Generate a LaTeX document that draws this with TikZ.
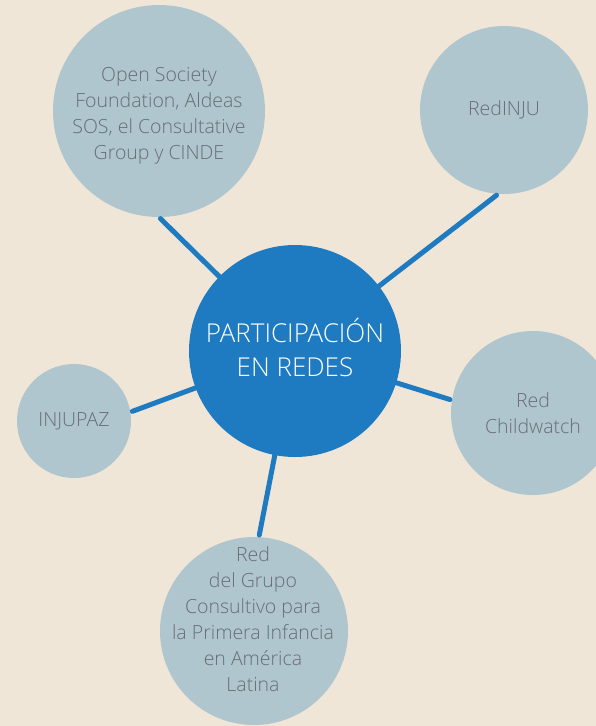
\documentclass[tikz,border=0pt]{standalone}
\usepackage{fontspec}
\setmainfont{Open Sans Light}
\usetikzlibrary{positioning}
\definecolor{fondo}{HTML}{F0E6D7}
\definecolor{satelite}{HTML}{AFC6CF}
\definecolor{centro}{HTML}{1E7BC1}
\definecolor{gristexto}{HTML}{686E73}

\begin{document}
\begin{tikzpicture}[
		x=1pt, y=-1pt,
		red/.style={ % circulos de las redes
				circle, fill=satelite, inner sep=0pt, align=center,
				text=gristexto, font=\fontsize{19.5}{26}\selectfont
			},
		hubred/.style={ % circulo central
				circle, fill=centro, inner sep=0pt, align=center,
				text=white, font=\fontsize{26}{34}\selectfont
			},
		enlace/.style={
				draw=centro, line width=5pt, line cap=round, shorten <=2pt
			}
	]
	% fondo y marco
	\fill[fondo] (0,0) rectangle (596,726);
	\clip (0,0) rectangle (596,726);
	% redes alrededor
	\node[red, minimum size=212pt] (osf) at (159,111) {};
	\node[gristexto, align=center, font=\fontsize{19.5}{26}\selectfont] (osftxt) at (159,116)
	{Open Society\\Foundation, Aldeas\\SOS, el Consultative\\Group y CINDE};
	\node[red, minimum size=168pt] (inju) at (504,110) {RedINJU};
	\node[red, minimum size=164pt] (childwatch) at (533,413) {Red\\Childwatch};
	\node[red, minimum size=114pt] (injupaz) at (74,421) {INJUPAZ};
	\node[red, minimum size=188pt] (grupo) at (254,631) {};
	\node[gristexto, align=center, font=\fontsize{19.5}{26}\selectfont] (grupotxt) at (253,619)
	{Red\\del Grupo\\Consultivo para\\la Primera Infancia\\en América\\Latina};
	% centro
	\coordinate (c) at (295,351);
	% enlaces hacia el centro
	\draw[enlace] (osf.270.5) -- (c);
	\draw[enlace] (inju.266.6) -- (c);
	\draw[enlace] (childwatch.171.6) -- (c);
	\draw[enlace] (injupaz.9.5) -- (c);
	\draw[enlace] (grupo.87.6) -- (c);
	\node[hubred, minimum size=212pt] (hub) at (c) {};
	\node[text=white, align=center, font=\fontsize{26}{34}\selectfont] (hubtxt) at (295,348)
	{PARTICIPACIÓN\\EN REDES};
\end{tikzpicture}
\end{document}
